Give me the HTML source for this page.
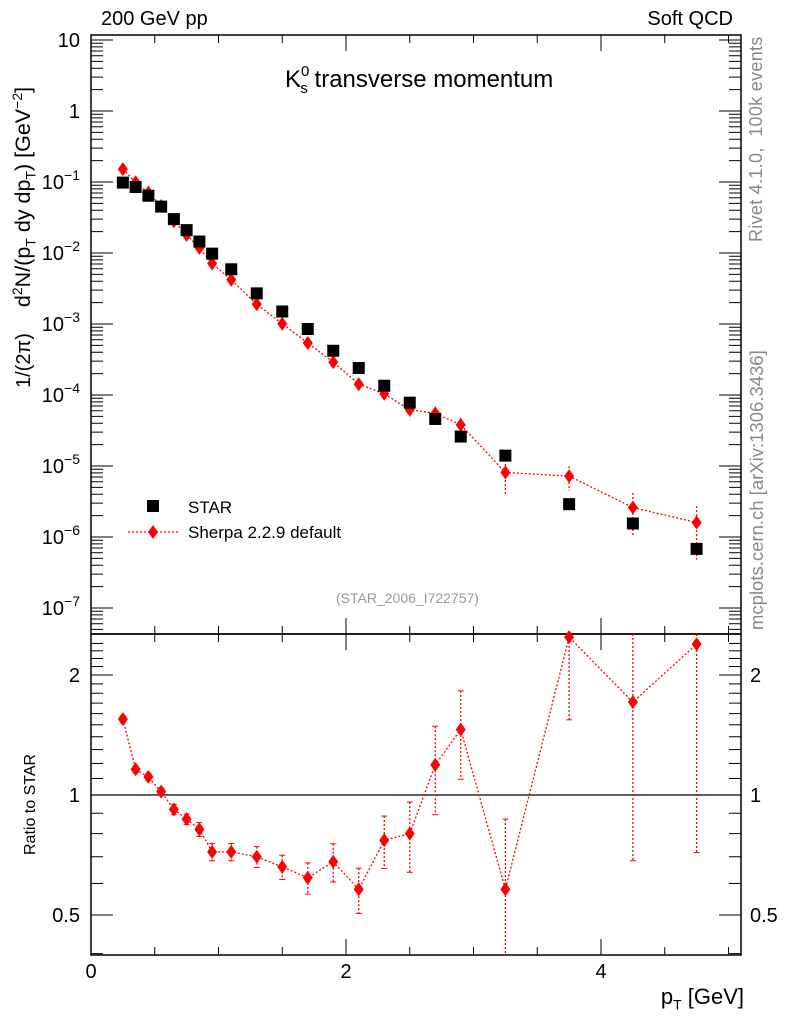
<!DOCTYPE html>
<html><head><meta charset="utf-8"><style>
body{margin:0;background:#fff;}
svg{display:block;font-family:"Liberation Sans",sans-serif;}
</style></head><body>
<svg id="c" width="786" height="1024" viewBox="0 0 786 1024"></svg>
<script>
const ptBins=[0.25,0.35,0.45,0.55,0.65,0.75,0.85,0.95,1.1,1.3,1.5,1.7,1.9,2.1,2.3,2.5,2.7,2.9,3.25,3.75,4.25,4.75];
const starVals=[0.098,0.085,0.064,0.045,0.030,0.021,0.0145,0.0098,0.0059,0.0027,0.0015,0.00085,0.00042,0.00024,0.000135,7.8e-5,4.6e-5,2.6e-5,1.4e-5,2.9e-6,1.55e-6,6.8e-7];
const sherpaVals=[0.152,0.099,0.071,0.046,0.028,0.018,0.0118,0.0071,0.0042,0.0019,0.00101,0.00054,0.00029,0.000142,0.000104,6.2e-5,5.5e-5,3.8e-5,8.1e-6,7.2e-6,2.6e-6,1.6e-6];
const ratioVals=[1.55,1.16,1.11,1.02,0.92,0.87,0.82,0.72,0.72,0.70,0.66,0.62,0.68,0.58,0.77,0.80,1.19,1.46,0.58,2.49,1.71,2.39];
const relErr=[0.02,0.02,0.02,0.02,0.03,0.03,0.04,0.05,0.05,0.06,0.07,0.09,0.11,0.13,0.15,0.2,0.25,0.25,0.5,0.38,0.6,0.7];
const xTicks=[0,2,4];
const yTickExp=[1,0,-1,-2,-3,-4,-5,-6,-7];
const rTicks=[0.5,1,2];

const svg=document.getElementById('c');
const NS='http://www.w3.org/2000/svg';
function el(t,a,p){const e=document.createElementNS(NS,t);for(const k in a)e.setAttribute(k,a[k]);(p||svg).appendChild(e);return e;}
const L=91,R=741,T=35,M=634,B=955;
const X=v=>L+v*127.5;
const Y=v=>40+(1-Math.log10(v))*71;
const YR=v=>795-Math.log2(v)*120;

const f1=el('rect',{x:L,y:T,width:R-L,height:M-T,fill:'none',stroke:'#000','stroke-width':1.5});

const f2=el('rect',{x:L,y:M,width:R-L,height:B-M,fill:'none',stroke:'#000','stroke-width':1.5});


for(let v=0;v<=5.1;v+=0.5){
  const maj=Math.abs(v%2)<1e-6;const len=maj?16:8;
  for(const [top,bot] of [[T,M],[M,B]]){
    el('line',{x1:X(v),x2:X(v),y1:bot,y2:bot-len,stroke:'#000','stroke-width':1});
    el('line',{x1:X(v),x2:X(v),y1:top,y2:top+len,stroke:'#000','stroke-width':1});
  }
}
xTicks.forEach(v=>{const t=el('text',{x:X(v),y:978,'font-size':20,'text-anchor':'middle'});t.textContent=v;
});

for(let e=-8;e<=1;e++){
  for(let m=1;m<10;m++){
    const v=m*Math.pow(10,e);const y=Y(v);if(y<T||y>M)continue;
    const len=m===1?22:12;
    el('line',{x1:L,x2:L+len,y1:y,y2:y,stroke:'#000'});
    el('line',{x1:R,x2:R-len,y1:y,y2:y,stroke:'#000'});
  }
}
yTickExp.forEach(e=>{
  const t=el('text',{x:80,y:Y(Math.pow(10,e))+7,'font-size':20,'text-anchor':'end'});
  if(e===1)t.textContent='10';else if(e===0)t.textContent='1';
  else{t.textContent='10';const s=el('tspan',{dy:-9,'font-size':14},t);s.textContent=String(e).replace('-','\u2212');}
  
});

for(let v=0.4;v<=2.5;v+=0.1){const y=YR(v);if(y<M||y>B)continue;
  const maj=[0.5,1,2].some(m=>Math.abs(m-v)<1e-6);const len=maj?22:12;
  el('line',{x1:L,x2:L+len,y1:y,y2:y,stroke:'#000'});el('line',{x1:R,x2:R-len,y1:y,y2:y,stroke:'#000'});}
rTicks.forEach(v=>{
  const a=el('text',{x:80,y:YR(v)+7,'font-size':20,'text-anchor':'end'});a.textContent=v;
  
  const b=el('text',{x:750,y:YR(v)+7,'font-size':20}); b.textContent=v;
  
});
el('line',{x1:L,x2:R,y1:YR(1),y2:YR(1),stroke:'#000','stroke-width':1.2});

const red='#f00';
let pts=ptBins.map((x,i)=>X(x)+','+Y(sherpaVals[i])).join(' ');
const sl=el('polyline',{points:pts,fill:'none',stroke:red,'stroke-width':1.3,'stroke-dasharray':'2,2'});

function diamond(cx,cy,name){const d=el('polygon',{points:`${cx},${cy-7} ${cx+5},${cy} ${cx},${cy+7} ${cx-5},${cy}`,fill:red});
}
ptBins.forEach((x,i)=>{
  const v=sherpaVals[i],e=relErr[i];
  const y1=Y(v*(1+e)),y2=Y(Math.max(v*(1-e),1e-9));
  el('line',{x1:X(x),x2:X(x),y1:y1,y2:Math.min(y2,M),stroke:red,'stroke-width':1.3,'stroke-dasharray':'2,2'});
  diamond(X(x),Y(v),'sherpa-point');
});
ptBins.forEach((x,i)=>{const r=el('rect',{x:X(x)-6,y:Y(starVals[i])-6,width:12,height:12,fill:'#000'});
});

pts=ptBins.map((x,i)=>X(x)+','+YR(ratioVals[i])).join(' ');
const rl=el('polyline',{points:pts,fill:'none',stroke:red,'stroke-width':1.3,'stroke-dasharray':'2,2'});

ptBins.forEach((x,i)=>{
  const v=ratioVals[i],e=relErr[i];
  const y1=Math.max(YR(v*(1+e)),M),y2=Math.min(YR(Math.max(v*(1-e),0.01)),B);
  el('line',{x1:X(x),x2:X(x),y1:y1,y2:y2,stroke:red,'stroke-width':1.3,'stroke-dasharray':'2,2'});
  [y1,y2].forEach(yy=>{if(yy>M&&yy<B)el('line',{x1:X(x)-3,x2:X(x)+3,y1:yy,y2:yy,stroke:red,'stroke-width':1});});
  diamond(X(x),YR(v),'ratio-point');
});

const lg=el('g',{});
el('rect',{x:147,y:500,width:12,height:12,fill:'#000'},lg);
let t=el('text',{x:188,y:513,'font-size':17},lg);t.textContent='STAR';
el('line',{x1:128,x2:178,y1:532,y2:532,stroke:red,'stroke-width':1.3,'stroke-dasharray':'2,2'},lg);
el('polygon',{points:'153,525 158,532 153,539 148,532',fill:red},lg);
t=el('text',{x:188,y:538,'font-size':17},lg);t.textContent='Sherpa 2.2.9 default';
</script>
<div style="position:absolute;left:0;top:0;width:786px;height:1024px;font-family:'Liberation Sans',sans-serif;pointer-events:none">
<div style="position:absolute;left:101px;top:8px;font-size:20px">200 GeV pp</div>
<div style="position:absolute;right:53px;top:8px;font-size:20px">Soft QCD</div>
<div style="position:absolute;left:285px;top:63px;font-size:24px;white-space:nowrap">K<sup style="font-size:15px;vertical-align:11px">0</sup><sub style="font-size:15px;margin-left:-9px;vertical-align:-6px">s</sub> transverse momentum</div>
<div style="position:absolute;left:336px;top:590px;font-size:14px;color:#999">(STAR_2006_I722757)</div>
<div style="position:absolute;left:9px;top:388px;transform-origin:0 0;transform:rotate(-90deg);font-size:20px;white-space:nowrap">1/(2π)<span style="display:inline-block;width:26px"></span><span style="font-size:21.5px">d<sup style="font-size:14px">2</sup>N/(p<sub style="font-size:14px">T</sub> dy dp<sub style="font-size:14px">T</sub>) [GeV<sup style="font-size:14px">−2</sup>]</span></div>
<div style="position:absolute;left:22px;top:855px;transform-origin:0 0;transform:rotate(-90deg);font-size:16px;white-space:nowrap">Ratio to STAR</div>
<div style="position:absolute;right:42px;top:984px;font-size:22px">p<sub style="font-size:14px">T</sub> [GeV]</div>
<div style="position:absolute;left:746px;top:242px;transform-origin:0 0;transform:rotate(-90deg);font-size:18px;color:#888;white-space:nowrap;letter-spacing:0.3px">Rivet 4.1.0, &nbsp;100k events</div>
<div style="position:absolute;left:746px;top:630px;transform-origin:0 0;transform:rotate(-90deg);font-size:18.5px;color:#888;white-space:nowrap">mcplots.cern.ch [arXiv:1306.3436]</div>
</div>
</body></html>
